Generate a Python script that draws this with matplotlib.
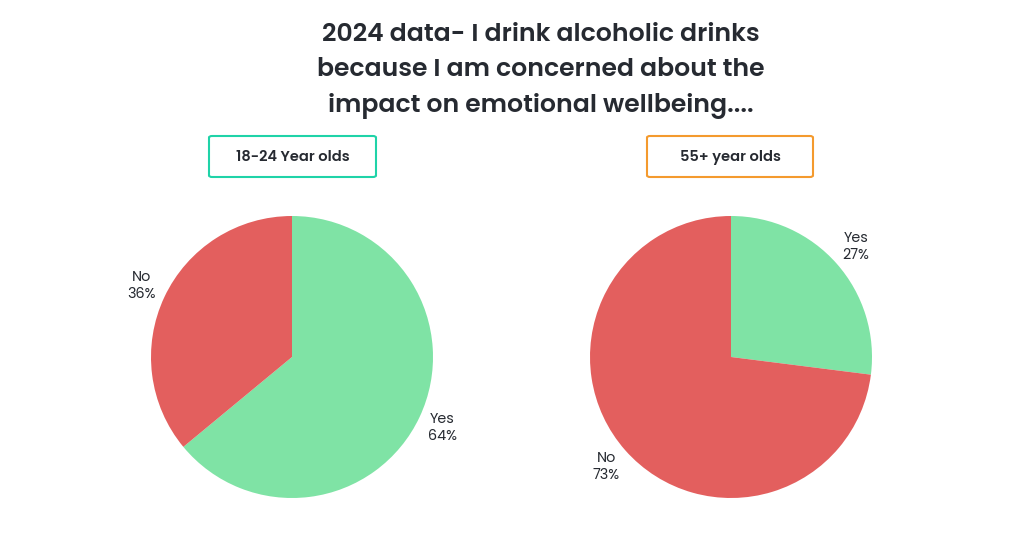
import matplotlib.pyplot as plt
from matplotlib.patches import FancyBboxPatch

title = "2024 data- I drink alcoholic drinks\nbecause I am concerned about the\nimpact on emotional wellbeing...."
answers = ["Yes", "No"]
young_pct = [64, 36]
old_pct = [27, 73]
group_names = ["18-24 Year olds", "55+ year olds"]

green = "#7fe3a5"
red = "#e35f5e"
ink = "#262a31"
plt.rcParams['font.family'] = ['Poppins', 'Noto Sans', 'DejaVu Sans']

W, H = 1024, 548
fig = plt.figure(figsize=(W / 100, H / 100), dpi=100)
fig.patch.set_facecolor("white")

fig.text(541 / W, 1 - 71 / H, title, ha="center", va="center", fontsize=18.1,
         fontweight="semibold", color=ink, linespacing=1.56)


def draw_pie(cx, values, box_x, box_w, box_color, name):
    r = 141
    ax = fig.add_axes([(cx - r) / W, (H - 357 - r) / H, 2 * r / W, 2 * r / H])
    labels = [f"{a}\n{v}%" for a, v in zip(answers, values)]
    wedges, texts = ax.pie(values, labels=labels, colors=[green, red], startangle=90,
                           counterclock=False, labeldistance=1.18,
                           textprops=dict(fontsize=10.3, color=ink, multialignment="center"))
    for t in texts:
        t.set_ha("center")
        t.set_va("center")
    ax.set_xlim(-1, 1)
    ax.set_ylim(-1, 1)
    ax.set_aspect("equal")

    box = FancyBboxPatch((box_x / W, 1 - 177 / H), box_w / W, 41 / H,
                         boxstyle="round,pad=0,rounding_size=0.003",
                         transform=fig.transFigure, facecolor="white",
                         edgecolor=box_color, linewidth=1.5)
    fig.patches.append(box)
    fig.text((box_x + box_w / 2) / W, 1 - 157 / H, name, ha="center", va="center",
             fontsize=10.5, fontweight="semibold", color=ink)


draw_pie(292, young_pct, 209, 167, "#1fd3a8", group_names[0])
draw_pie(731, old_pct, 647, 166, "#f49a2e", group_names[1])

fig.savefig("out.png", dpi=100)
